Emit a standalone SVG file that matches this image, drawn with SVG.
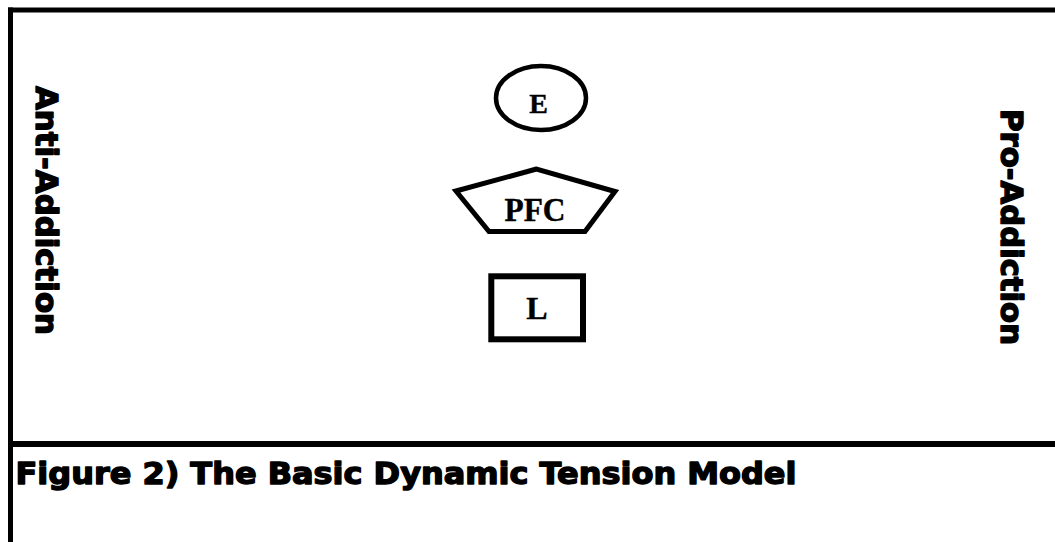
<svg xmlns="http://www.w3.org/2000/svg" width="1055" height="542" viewBox="0 0 1055 542">
<style>
.frame{stroke:#000;fill:none}
.shape{fill:#fff;stroke:#000}
.lbl{font-family:"Liberation Serif","Times New Roman",serif;font-weight:bold;fill:#000;stroke:#000;stroke-width:0.4;text-anchor:middle}
.heavy{font-family:"DejaVu Sans","Liberation Sans",Arial,sans-serif;font-weight:bold;fill:#000;stroke:#000;stroke-width:1.4;stroke-linejoin:round}
</style>
<rect x="0" y="0" width="1055" height="542" fill="#fff"/>
<g id="frame">
<line class="frame" x1="8" y1="10" x2="1055" y2="10" stroke-width="5"/>
<line class="frame" x1="10.5" y1="7.5" x2="10.5" y2="542" stroke-width="5"/>
<line class="frame" x1="8" y1="444" x2="1055" y2="444" stroke-width="6"/>
</g>
<g id="anti-addiction">
<text class="heavy" transform="translate(35.5,86) rotate(90)" x="0" y="0" font-size="30" textLength="249" lengthAdjust="spacingAndGlyphs">Anti-Addiction</text>
</g>
<g id="pro-addiction">
<text class="heavy" transform="translate(1000.5,109) rotate(90)" x="0" y="0" font-size="30" textLength="236" lengthAdjust="spacingAndGlyphs">Pro-Addiction</text>
</g>
<g id="node-E">
<ellipse class="shape" cx="541" cy="98" rx="45" ry="32" stroke-width="4.5"/>
<text class="lbl" x="538.5" y="112.5" font-size="28">E</text>
</g>
<g id="node-PFC">
<polygon class="shape" points="536.5,169 456,191 489,231.5 585,231.5 615,191.5" stroke-width="5" stroke-linejoin="miter"/>
<text class="lbl" x="535" y="220.5" font-size="33" textLength="61" lengthAdjust="spacingAndGlyphs">PFC</text>
</g>
<g id="node-L">
<rect class="shape" x="491.3" y="276.3" width="91.7" height="63" stroke-width="6"/>
<text class="lbl" x="537" y="318.5" font-size="32">L</text>
</g>
<g id="caption">
<text class="heavy" x="15.5" y="483.5" font-size="29.5" textLength="781" lengthAdjust="spacingAndGlyphs">Figure 2) The Basic Dynamic Tension Model</text>
</g>
</svg>
